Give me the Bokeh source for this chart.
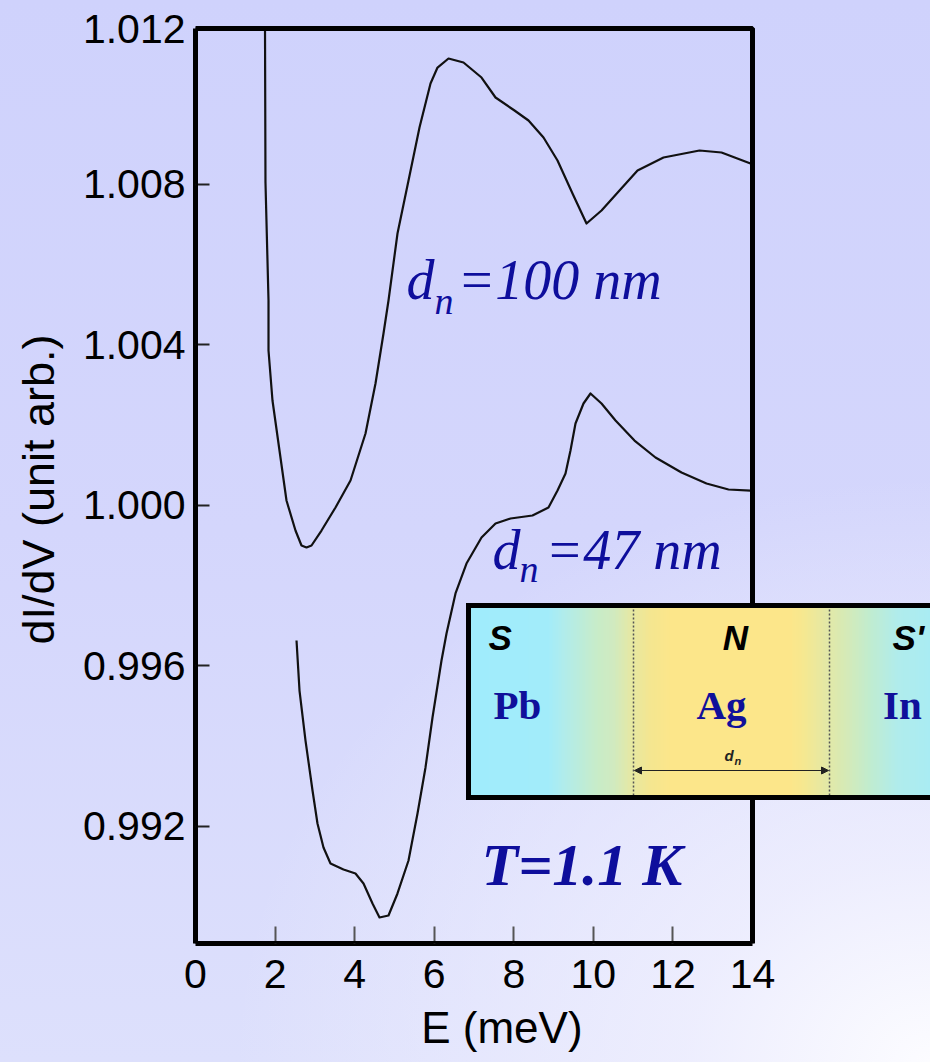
import numpy as np
from bokeh.plotting import figure
from bokeh.models import (FixedTicker, PrintfTickFormatter, Label, BoxAnnotation,
                          Arrow, NormalHead, GlobalInlineStyleSheet)
from bokeh.embed import file_html
from bokeh.resources import INLINE

# ---------------- data ----------------
e_100nm = [1.747, 1.759, 1.835, 1.835, 1.935, 2.111, 2.287, 2.513, 2.664, 2.790, 2.916,
           3.167, 3.519, 3.896, 4.273, 4.524, 4.725, 4.851, 5.077, 5.354, 5.630, 5.907,
           6.083, 6.359, 6.736, 7.189, 7.541, 8.018, 8.370, 8.747, 9.099, 9.476,
           9.828, 10.205, 10.657, 11.110, 11.763, 12.668, 13.221, 13.950, 14.025]
g_100nm = [1.011875, 1.008037, 1.005097, 1.003850, 1.002604, 1.001358, 1.000112,
           0.999364, 0.998991, 0.998941, 0.998991, 0.999364, 0.999938, 1.000611,
           1.001782, 1.003028, 1.004274, 1.005097, 1.006767, 1.008087, 1.009408,
           1.010505, 1.010903, 1.011128, 1.011028, 1.010654, 1.010156, 1.009832,
           1.009583, 1.009159, 1.008586, 1.007764, 1.007016, 1.007340, 1.007838,
           1.008337, 1.008661, 1.008835, 1.008786, 1.008511, 1.008461]

e_47nm = [2.539, 2.614, 2.765, 2.941, 3.066, 3.217, 3.393, 3.720, 4.021, 4.223,
          4.449, 4.625, 4.851, 5.077, 5.354, 5.580, 5.781, 5.957, 6.183, 6.309,
          6.535, 6.811, 7.189, 7.541, 7.918, 8.470, 8.872, 9.099, 9.300, 9.425,
          9.551, 9.752, 9.928, 10.205, 10.557, 11.034, 11.562, 12.215, 12.844,
          13.397, 13.950, 14.025]
g_47nm = [0.996623, 0.995377, 0.994131, 0.992885, 0.992063, 0.991465, 0.991066,
          0.990917, 0.990817, 0.990568, 0.990069, 0.989721, 0.989770, 0.990319,
          0.991141, 0.992312, 0.993459, 0.994705, 0.996125, 0.996798, 0.997795,
          0.998542, 0.999190, 0.999539, 0.999664, 0.999738, 0.999938, 1.000361,
          1.000785, 1.001358, 1.002031, 1.002530, 1.002779, 1.002530, 1.002106,
          1.001607, 1.001184, 1.000810, 1.000536, 1.000386, 1.000361, 1.000361]

x_ticks = [0, 2, 4, 6, 8, 10, 12, 14]
y_ticks = [0.992, 0.996, 1.000, 1.004, 1.008]
x_box = (0, 14)                    # plotted energy window
y_box = (0.989072, 1.011875)       # plotted conductance window (top labelled 1.012)

x_title = "E (meV)"
y_title = "dI/dV (unit arb.)"
label_100 = ("d", "n", "=100 nm")
label_47 = ("d", "n", "=47 nm")
label_T = "T=1.1 K"

# ---------------- figure ----------------
BLUE = "#0e0e9c"
PX0, PXU = 195.0, 39.786           # page x of E=0, pixels per meV
PY0, PYU = 504.5, 2.4922e-5        # page y of 1.000, units per pixel
W, H = 930, 1062
FRAME_TOP = 10
NBSP = "\u00a0"

x_rng = (0, (W - PX0) / PXU)
y_rng = (y_box[0], y_box[0] + (943 - FRAME_TOP) * PYU)

p = figure(width=W, height=H, output_backend="svg", toolbar_location=None,
           x_range=x_rng, y_range=y_rng,
           min_border_left=int(PX0), min_border_right=0,
           min_border_top=FRAME_TOP, min_border_bottom=H - 943)

css = """
html { min-height: 100%; }
body {
  background:
    radial-gradient(ellipse 75% 55% at 100% 100%, rgba(252,252,255,1) 0%, rgba(240,240,254,0.85) 35%, rgba(230,231,253,0) 100%),
    linear-gradient(180deg, #cfd2fc 0%, #d4d6fc 50%, #dde0fc 100%);
  background-attachment: fixed;
}
"""
p.stylesheets = [GlobalInlineStyleSheet(css=css)]

p.background_fill_alpha = 0
p.border_fill_alpha = 0
p.grid.visible = False
p.outline_line_color = None

p.xaxis.ticker = FixedTicker(ticks=x_ticks)
p.yaxis.ticker = FixedTicker(ticks=y_ticks + [y_box[1]])
p.yaxis.formatter = PrintfTickFormatter(format="%.3f")
p.xaxis.bounds = x_box
p.yaxis.bounds = y_box

for ax in (p.xaxis, p.yaxis):
    ax.axis_line_color = "black"
    ax.axis_line_width = 5
    ax.minor_tick_line_color = None
    ax.major_tick_out = 0
    ax.major_label_text_font = "Liberation Sans"
    ax.major_label_text_font_size = "41px"
    ax.major_label_text_color = "black"
    ax.axis_label_text_font = "Liberation Sans"
    ax.axis_label_text_font_style = "normal"
    ax.axis_label_text_color = "black"

p.yaxis.major_tick_in = 14
p.yaxis.major_tick_line_width = 2
p.yaxis.major_tick_line_color = "#222222"
p.yaxis.major_label_standoff = 10
p.yaxis.axis_label = y_title + NBSP * 2
p.yaxis.axis_label_text_font_size = "45px"
p.yaxis.axis_label_standoff = 16

p.xaxis.major_tick_in = 17
p.xaxis.major_tick_line_width = 2
p.xaxis.major_tick_line_color = "#555555"
p.xaxis.major_label_standoff = 16
p.xaxis.axis_label = x_title + NBSP * 10
p.xaxis.axis_label_text_font_size = "44px"
p.xaxis.axis_label_standoff = 12

p.line(e_100nm, g_100nm, line_color="#111111", line_width=2.2, line_join="round")
p.line(e_47nm, g_47nm, line_color="#111111", line_width=2.2, line_join="round")

# top and right edges of the plot box
p.add_layout(BoxAnnotation(left=x_box[0], right=x_box[1], bottom=y_box[0], top=y_box[1],
                           fill_alpha=0, line_color="black", line_alpha=1, line_width=5,
                           level="annotation"))

# ---------------- curve labels ----------------
def dx(px):
    return (px - PX0) / PXU

def dy(py):
    return 1.0 + (PY0 - py) * PYU

def base(py, size):
    # Bokeh's alphabetic baseline sits ~0.37 em lower than the visual baseline
    return dy(py - 0.37 * size)

def add_dn_label(parts, x_d, x_n, x_rest, y_base, y_sub):
    p.add_layout(Label(x=dx(x_d), y=base(y_base, 56), text=parts[0], text_font="Liberation Serif",
                       text_font_style="italic", text_font_size="56px", text_color=BLUE,
                       text_baseline="alphabetic", text_align="left"))
    p.add_layout(Label(x=dx(x_n), y=base(y_sub, 38), text=parts[1], text_font="Liberation Serif",
                       text_font_style="italic", text_font_size="38px", text_color=BLUE,
                       text_baseline="alphabetic", text_align="left"))
    p.add_layout(Label(x=dx(x_rest), y=base(y_base, 56), text=parts[2], text_font="Liberation Serif",
                       text_font_style="italic", text_font_size="56px", text_color=BLUE,
                       text_baseline="alphabetic", text_align="left"))

add_dn_label(label_100, 406, 434, 457, 300, 315)
add_dn_label(label_47, 492, 519, 545, 570, 583)

p.add_layout(Label(x=dx(481), y=base(887, 60), text=label_T, text_font="Liberation Serif",
                   text_font_style="bold italic", text_font_size="60px", text_color=BLUE,
                   text_baseline="alphabetic", text_align="left"))

# ---------------- inset: S / N / S' junction sketch ----------------
ins_l, ins_r = dx(468), dx(990)
ins_top, ins_bot = dy(605), dy(797)
stop_px = [468, 547, 563, 597, 613, 633, 650, 670, 790, 803, 820, 847, 870, 897, 945]
stop_col = ["#a0ecfc", "#a2ecfa", "#b0ecec", "#c8ecc8", "#d0eac0", "#e8e8a0", "#f4e690",
            "#fce68a", "#fce68a", "#f6e890", "#e8e8a0", "#d4eab8", "#c0ecd0", "#b0ecec",
            "#a6ecf6"]
rgb = np.array([[int(c[i:i + 2], 16) for i in (1, 3, 5)] for c in stop_col], float)
step = 3
for px in range(468, 945, step):
    c = [int(round(np.interp(px + step / 2, stop_px, rgb[:, k]))) for k in range(3)]
    p.add_layout(BoxAnnotation(left=dx(px), right=dx(px + step + 1), top=ins_top, bottom=ins_bot,
                               fill_color="#%02x%02x%02x" % tuple(c), fill_alpha=1,
                               line_color=None, level="overlay"))

for px in (633, 829):
    p.add_layout(Arrow(x_start=dx(px), x_end=dx(px), y_start=ins_top, y_end=ins_bot,
                       start=None, end=None, line_color="#555555", line_width=1.5,
                       line_dash="2 2", level="overlay"))

p.add_layout(Arrow(x_start=dx(634), x_end=dx(828), y_start=dy(770), y_end=dy(770),
                   start=NormalHead(size=7, fill_color="#222222", line_color="#222222"),
                   end=NormalHead(size=7, fill_color="#222222", line_color="#222222"),
                   line_color="#222222", line_width=1.2, level="overlay"))

p.add_layout(Label(x=dx(724), y=base(761, 15), text="d", text_font="Liberation Sans",
                   text_font_style="bold italic", text_font_size="15px", text_color="#222222",
                   text_baseline="alphabetic", level="overlay"))
p.add_layout(Label(x=dx(734), y=base(765, 11), text="n", text_font="Liberation Sans",
                   text_font_style="bold italic", text_font_size="11px", text_color="#222222",
                   text_baseline="alphabetic", level="overlay"))

for txt, px, al in (("S", 488, "left"), ("N", 735, "center"), ("S'", 892, "left")):
    p.add_layout(Label(x=dx(px), y=dy(637), text=txt, text_font="Liberation Sans",
                       text_font_style="bold italic", text_font_size="35px", text_color="black",
                       text_baseline="middle", text_align=al, level="overlay"))

for txt, px, al in (("Pb", 493, "left"), ("Ag", 721, "center"), ("In", 902, "center")):
    p.add_layout(Label(x=dx(px), y=base(720, 41), text=txt, text_font="Liberation Serif",
                       text_font_style="bold", text_font_size="41px", text_color="#10109a",
                       text_baseline="alphabetic", text_align=al, level="overlay"))

# inset frame: top, left and bottom edges (the right edge runs off the page)
for xs, xe, ys, ye in ((ins_r, ins_l, ins_top, ins_top), (ins_l, ins_l, ins_top, ins_bot),
                       (ins_l, ins_r, ins_bot, ins_bot)):
    p.add_layout(Arrow(x_start=xs, x_end=xe, y_start=ys, y_end=ye, start=None, end=None,
                       line_color="black", line_width=5, line_cap="square", level="overlay"))

open("out.html", "w").write(file_html(p, INLINE))
